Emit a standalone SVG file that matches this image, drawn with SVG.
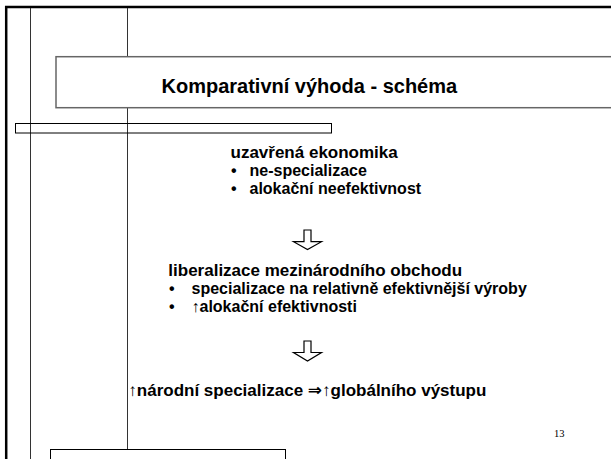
<svg xmlns="http://www.w3.org/2000/svg" width="611" height="459" viewBox="0 0 611 459">
<style>
.t{font-family:"Liberation Sans",Arial,"DejaVu Sans",sans-serif;font-weight:bold;fill:#000}
.h{font-size:17px}
.b{font-size:16px}
.guide{stroke:#333;stroke-width:1;fill:none}
.arrow{fill:#fff;stroke:#000;stroke-width:1.2;stroke-linejoin:miter}
</style>
<rect width="611" height="459" fill="#fff"/>
<g id="frame">
<path d="M6.2,470 V7 H620" fill="none" stroke="#000" stroke-width="2.5"/>
</g>
<g id="guides">
<line class="guide" x1="30.5" y1="8" x2="30.5" y2="459"/>
<line class="guide" x1="127.5" y1="8" x2="127.5" y2="449"/>
<rect x="15.5" y="123.5" width="316" height="9.5" fill="none" stroke="#000" stroke-width="1"/>
</g>
<g id="title">
<rect x="56" y="56.7" width="570" height="51" fill="#fff" stroke="#666" stroke-width="1.5"/>
<text class="t" x="161.5" y="92.5" font-size="20">Komparativní výhoda - schéma</text>
</g>
<g id="node-closed">
<text class="t h" x="230.5" y="157.5">uzavřená ekonomika</text>
<text class="t b" x="231" y="175.5">•</text>
<text class="t b" x="249.5" y="175.5">ne-specializace</text>
<text class="t b" x="231" y="194">•</text>
<text class="t b" x="249.5" y="194">alokační neefektivnost</text>
</g>
<g id="node-liberal">
<text class="t h" x="168.3" y="276">liberalizace mezinárodního obchodu</text>
<text class="t b" x="169" y="294">•</text>
<text class="t b" x="191.5" y="294">specializace na relativně efektivnější výroby</text>
<text class="t b" x="169" y="312">•</text>
<text class="t b" x="191.5" y="312">↑alokační efektivnosti</text>
</g>
<g id="node-result">
<text class="t h" x="128.3" y="396">↑národní specializace ⇒↑globálního výstupu</text>
</g>
<g id="connectors">
<path class="arrow" d="M304,230 H311 V241.7 H321.5 L307.5,249.5 L293.5,241.7 H304 Z"/>
<path class="arrow" d="M304,341 H311 V352.5 H321.5 L307.5,361 L293.5,352.5 H304 Z"/>
</g>
<g id="page-number">
<text x="554" y="437" font-family="'Liberation Serif','Times New Roman',serif" font-size="10.5" fill="#000">13</text>
</g>
<g id="bottom-box">
<rect x="50.5" y="449.5" width="235" height="30" fill="#fff" stroke="#000" stroke-width="1"/>
</g>
</svg>
